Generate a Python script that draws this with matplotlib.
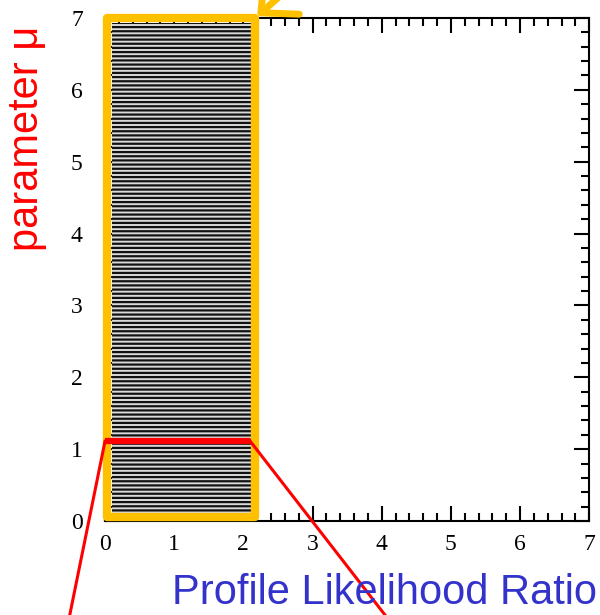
import matplotlib.pyplot as plt
from matplotlib.patches import Rectangle
from matplotlib.ticker import MultipleLocator

# belt region (Neyman construction, drawn as horizontal lines)
belt_x = [0.10, 1.13, 2.13]      # left edge, seam, right edge
belt_mu = [0.10, 6.93]           # bottom / top of belt
mu_cut = 1.11                    # red interval line
cut_x = [0.0, 2.10]
box_x = [0.03, 2.17]             # yellow highlight box
box_y = [0.05, 7.0]
lead_left = [-0.51, -1.31]       # red leader lines running off the axes
lead_right = [4.05, -1.31]
arrow_tail = [2.70, 7.45]

fig = plt.figure(figsize=(6, 6.15), dpi=100)
ax = fig.add_axes([0.175, 0.1528, 0.807, 0.818])
ax.set_xlim(0, 7)
ax.set_ylim(0, 7)

plt.rcParams['hatch.linewidth'] = 1.6
for x0, x1 in [(belt_x[0], belt_x[1]), (belt_x[1], belt_x[2])]:
    ax.add_patch(Rectangle((x0, belt_mu[0]), x1 - x0, belt_mu[1] - belt_mu[0],
                           facecolor='#dadada', edgecolor='#111111', hatch='----',
                           linewidth=0, zorder=2))

ax.add_patch(Rectangle((box_x[0], box_y[0]), box_x[1] - box_x[0], box_y[1] - box_y[0],
                       fill=False, edgecolor='#ffc000', linewidth=6,
                       joinstyle='round', clip_on=False, zorder=5))

ax.plot(cut_x, [mu_cut, mu_cut], color='red', lw=4.5, clip_on=False, zorder=6,
        solid_capstyle='butt')
ax.plot([cut_x[0], lead_left[0]], [mu_cut, lead_left[1]], color='red', lw=2.2,
        clip_on=False, zorder=6)
ax.plot([cut_x[1], lead_right[0]], [mu_cut, lead_right[1]], color='red', lw=2.2,
        clip_on=False, zorder=6)

ax.annotate('', xy=(box_x[1], box_y[1]), xytext=arrow_tail,
            arrowprops=dict(arrowstyle='->,head_length=2.0,head_width=1.9',
                            color='#ffc000', lw=5, capstyle='round',
                            joinstyle='round'),
            annotation_clip=False, zorder=7)

ax.xaxis.set_major_locator(MultipleLocator(1))
ax.yaxis.set_major_locator(MultipleLocator(1))
ax.xaxis.set_minor_locator(MultipleLocator(0.2))
ax.yaxis.set_minor_locator(MultipleLocator(0.2))
ax.tick_params(which='both', direction='in', top=True, right=True, width=1.5)
ax.tick_params(which='major', length=11, labelsize=17)
ax.tick_params(which='minor', length=6)
ax.tick_params(axis='x', which='major', pad=9)
ax.tick_params(axis='y', which='major', pad=16)
for lab in ax.get_xticklabels() + ax.get_yticklabels():
    lab.set_fontfamily('Liberation Serif')
for s in ax.spines.values():
    s.set_linewidth(1.5)

fig.text(0.045, 0.775, 'parameter μ', rotation=90, color='red', fontsize=30,
         family='Liberation Sans', ha='center', va='center')
fig.text(0.64, 0.018, 'Profile Likelihood Ratio', color='#3333cc', fontsize=30,
         family='Liberation Sans', ha='center', va='baseline')

fig.savefig('out.png', dpi=100)
